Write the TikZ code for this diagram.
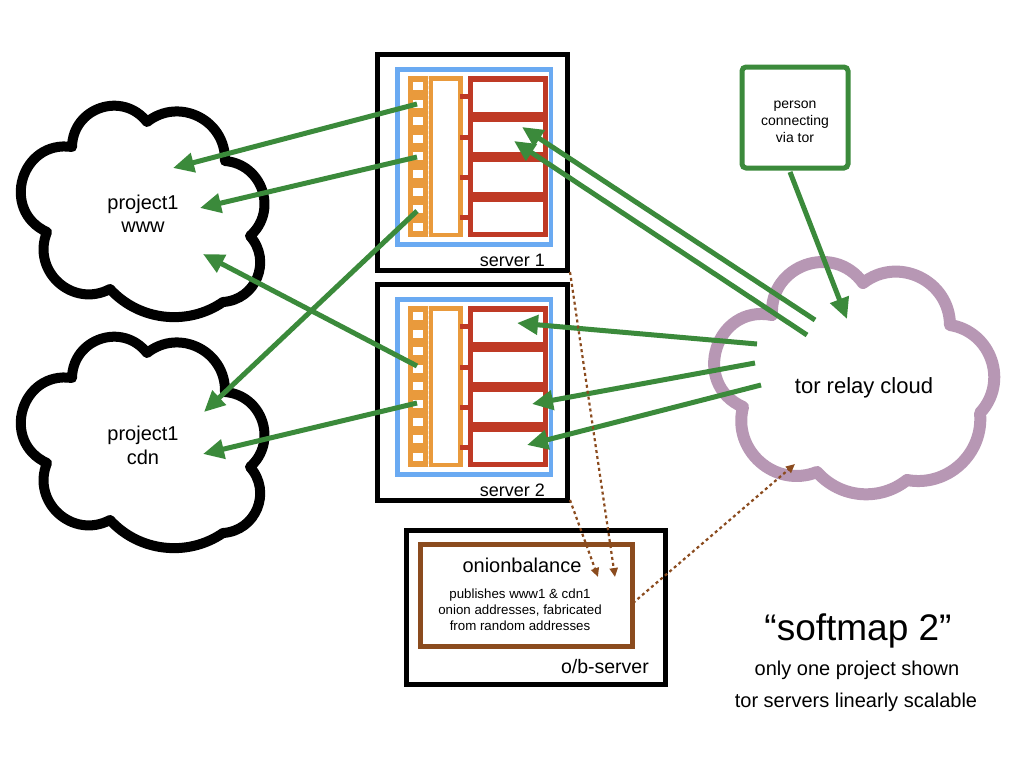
\documentclass[tikz,border=0pt]{standalone}
\usepackage{fontspec}
\setmainfont{Liberation Sans}
\usetikzlibrary{arrows.meta}
\definecolor{grn}{HTML}{3B8A3B}
\definecolor{org}{HTML}{E99A3C}
\definecolor{rd}{HTML}{BF3A25}
\definecolor{blu}{HTML}{6AAAF2}
\definecolor{prp}{HTML}{B797B4}
\definecolor{brn}{HTML}{8B4B1E}
\tikzset{
  garrow/.style={draw=grn, line width=5pt, -{Triangle[length=21pt,width=19pt]}},
  darrow/.style={draw=brn, line width=2.2pt, dash pattern=on 3pt off 3pt, -{Triangle[length=9pt,width=8pt]}},
  cloudline/.style={line width=10pt, line join=round},
  lbl/.style={anchor=base, inner sep=0pt},
}
\newcommand\blackcloud{%
 \draw[cloudline] (72,378) to[bend left=70.6,looseness=1.28] (147,353)
   to[bend left=65,looseness=1.2] (225,392)
   to[bend left=67,looseness=1.22] (250,467)
   to[bend left=64,looseness=1.19] (223,533)
   to[bend left=41,looseness=0.97] (110,520)
   to[bend left=70,looseness=1.27] (47,463)
   to[bend left=82,looseness=1.49] (72,378) -- cycle;}
\newcommand\myserver[3]{%
\begin{scope}[shift={(0,#1)}]
 \draw[line width=5pt] (377.5,54.5) rectangle (567.5,270);
 \draw[blu, line width=4.5pt] (397.5,69.5) rectangle (551,244.5);
 \fill[org] (408,76) rectangle (428,237);
 \foreach \k in {0,...,8} \fill[white] (413,{82+17.6*\k}) rectangle (423,{90+17.6*\k});
 \fill[org] (429,76) rectangle (463,237);
 \fill[white] (433,81) rectangle (458,233);
 \draw[white!75!org, line width=0.6pt, dash pattern=on 3pt off 2pt] (428.5,76) -- (428.5,237);
 \fill[rd] (468,76) rectangle (548,237);
 \foreach \yy in {82,122,162,202} \fill[white] (473,\yy) rectangle (543,\yy+30);
 \foreach \yy in {96,137,177,217} \fill[rd] (460,\yy-2.5) rectangle (468,\yy+2.5);
 \node[anchor=base east, inner sep=0pt, font=\fontsize{18}{20}\selectfont] (#2lbl) at (545,266) {#3};
\end{scope}}
\begin{document}
\begin{tikzpicture}[x=1pt,y=-1pt]
\useasboundingbox (0,0) rectangle (1024,768);
\fill[white] (0,0) rectangle (1024,768);

% clouds
\begin{scope}[shift={(0,-231)}]\blackcloud\end{scope}
\blackcloud
\draw[prp, line width=12pt, line join=round]
  (772,315) to[bend left=73.7,looseness=1.33] (863,283)
  to[bend left=63.6,looseness=1.18] (950,325)
  to[bend left=62,looseness=1.16] (980,413)
  to[bend left=53,looseness=1.06] (907,480)
  to[bend left=43.6,looseness=0.99] (817,472)
  to[bend left=63,looseness=1.17] (743,407)
  to[bend left=83.7,looseness=1.53] (772,315) -- cycle;

\node[lbl, font=\fontsize{20}{24}\selectfont] (wwwt1) at (143,209) {project1};
\node[lbl, font=\fontsize{20}{24}\selectfont] (wwwt2) at (143,232) {www};
\node[lbl, font=\fontsize{20}{24}\selectfont] (cdnt1) at (143,440) {project1};
\node[lbl, font=\fontsize{20}{24}\selectfont] (cdnt2) at (143,464) {cdn};
\node[lbl, font=\fontsize{22}{24}\selectfont] (tort) at (864,393) {tor relay cloud};

% servers
\myserver{0}{sa}{server 1}
\myserver{230}{sb}{server 2}

% o/b server
\draw[line width=5pt] (406.5,530) rectangle (665,684);
\draw[brn, line width=5pt] (420,544) rectangle (632,646);
\node[lbl, font=\fontsize{20}{24}\selectfont] (ob) at (522,572) {onionbalance};
\node[lbl, font=\fontsize{13.3}{16}\selectfont] (ob1) at (520,598) {publishes www1 \& cdn1};
\node[lbl, font=\fontsize{13.3}{16}\selectfont] (ob2) at (520,614) {onion addresses, fabricated};
\node[lbl, font=\fontsize{13.3}{16}\selectfont] (ob3) at (520,630) {from random addresses};
\node[anchor=base east, inner sep=0pt, font=\fontsize{19.5}{22}\selectfont] (obl) at (649,673) {o/b-server};

% person
\draw[grn, line width=5pt, rounded corners=4pt] (742,67) rectangle (848,168);
\node[lbl, font=\fontsize{14}{17}\selectfont] (p1) at (795,108) {person};
\node[lbl, font=\fontsize{14}{17}\selectfont] (p2) at (795,125) {connecting};
\node[lbl, font=\fontsize{14}{17}\selectfont] (p3) at (795,142) {via tor};

% title
\node[lbl, font=\fontsize{37}{40}\selectfont] (t1) at (858,640) {“softmap 2”};
\node[lbl, font=\fontsize{20}{24}\selectfont] (t2) at (857,675) {only one project shown};
\node[lbl, font=\fontsize{20}{24}\selectfont] (t3) at (856,707) {tor servers linearly scalable};

% coordinates
\coordinate (s1a) at (417,104); \coordinate (wA) at (173,168);
\coordinate (s1b) at (417,157); \coordinate (wB) at (200,208);
\coordinate (s1c) at (417,211); \coordinate (cA) at (204,412);
\coordinate (s2a) at (417,366); \coordinate (wC) at (203,254);
\coordinate (s2b) at (417,403); \coordinate (cB) at (203,454);
\coordinate (torA) at (815,320); \coordinate (r11) at (522,127);
\coordinate (torB) at (807,335); \coordinate (r12) at (514,141);
\coordinate (torC) at (757,344); \coordinate (r21) at (517,323);
\coordinate (torD) at (755,363); \coordinate (r23) at (532,404);
\coordinate (torE) at (761,385); \coordinate (r24) at (527,445);
\coordinate (pout) at (790,172); \coordinate (torIn) at (847,319);
\coordinate (s1bot) at (570,272); \coordinate (obinA) at (615,577);
\coordinate (s2bot) at (570,500); \coordinate (obinB) at (598,577);
\coordinate (obout) at (633,603); \coordinate (torBot) at (795,464);

% green arrows
\draw[garrow] (s1a) -- (wA);
\draw[garrow] (s1b) -- (wB);
\draw[garrow] (s1c) -- (cA);
\draw[garrow] (s2a) -- (wC);
\draw[garrow] (s2b) -- (cB);
\draw[garrow] (torA) -- (r11);
\draw[garrow] (torB) -- (r12);
\draw[garrow] (torC) -- (r21);
\draw[garrow] (torD) -- (r23);
\draw[garrow] (torE) -- (r24);
\draw[garrow] (pout) -- (torIn);

% dotted arrows
\draw[darrow] (s1bot) -- (obinA);
\draw[darrow] (s2bot) -- (obinB);
\draw[darrow] (obout) -- (torBot);
\end{tikzpicture}
\end{document}
